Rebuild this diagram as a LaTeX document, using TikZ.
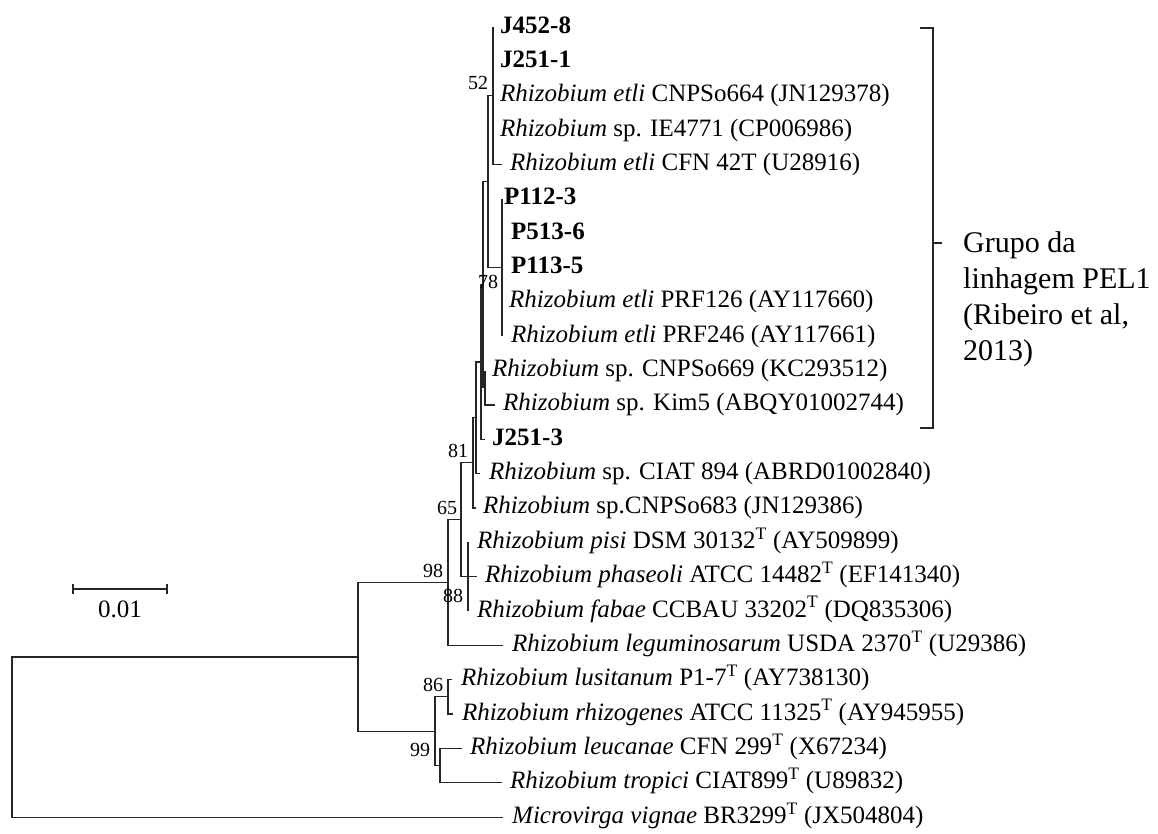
\documentclass[tikz,border=0pt]{standalone}
\usepackage{fontspec}
\setmainfont{Liberation Serif}
\usetikzlibrary{positioning}

\begin{document}
\begin{tikzpicture}[x=1pt, y=-1pt]
	\tikzstyle{branch} = [line width=1.2pt, black!85]
	\tikzstyle{leaf} = [inner sep=0pt, font=\fontsize{25}{30}\selectfont, text height=17pt, text depth=5pt]
	\tikzstyle{boot} = [inner sep=0pt, font=\fontsize{20}{24}\selectfont]
	\tikzstyle{grouplbl} = [inner sep=0pt, align=left, anchor=north west, font=\fontsize{30}{36}\selectfont]
	\useasboundingbox (0,0) rectangle (1158,833);

	% Internal nodes
	\coordinate (nA) at (493,95.7);
	\coordinate (nP) at (502,267.5);
	\coordinate (n1) at (488,181.6);
	\coordinate (nCK) at (485,387.7);
	\coordinate (n2) at (483,284.6);
	\coordinate (n3) at (481,361.9);
	\coordinate (n4) at (476,417.7);
	\coordinate (n5) at (473,462.8);
	\coordinate (nPPF) at (468,576.6);
	\coordinate (n6) at (461,519.7);
	\coordinate (n7) at (448,582.5);
	\coordinate (nLR) at (448,696.8);
	\coordinate (nLT) at (440,765.5);
	\coordinate (n8) at (435,731.2);
	\coordinate (n9) at (358,656.9);
	\coordinate (root) at (12,737);

	% Leaf tips
	\coordinate (t1) at (493,27);
	\coordinate (t2) at (493,61.4);
	\coordinate (t3) at (493,95.7);
	\coordinate (t4) at (493,130.1);
	\coordinate (t5) at (502,164.4);
	\coordinate (t6) at (502,198.8);
	\coordinate (t7) at (502,233.1);
	\coordinate (t8) at (502,267.5);
	\coordinate (t9) at (502,301.8);
	\coordinate (t10) at (502,336.2);
	\coordinate (t11) at (485,370.5);
	\coordinate (t12) at (495,404.9);
	\coordinate (t13) at (485,439.2);
	\coordinate (t14) at (480,473.6);
	\coordinate (t15) at (476,507.9);
	\coordinate (t16) at (468,542.3);
	\coordinate (t17) at (477,576.6);
	\coordinate (t18) at (468,611);
	\coordinate (t19) at (503,645.3);
	\coordinate (t20) at (452,679.7);
	\coordinate (t21) at (453,714);
	\coordinate (t22) at (462,748.4);
	\coordinate (t23) at (502,782.7);
	\coordinate (t24) at (503,817.1);

	% Branches
	\draw[branch] (nA) |- (t1) (nA) |- (t2) (nA) |- (t3) (nA) |- (t4) (nA) |- (t5);
	\draw[branch] (nP) |- (t6) (nP) |- (t7) (nP) |- (t8) (nP) |- (t9) (nP) |- (t10);
	\draw[branch] (n1) |- (nA) (n1) |- (nP);
	\draw[branch] (nCK) |- (t11) (nCK) |- (t12);
	\draw[branch] (n2) |- (n1) (n2) |- (nCK);
	\draw[branch] (n3) |- (n2) (n3) |- (t13);
	\draw[branch] (n4) |- (n3) (n4) |- (t14);
	\draw[branch] (n5) |- (n4) (n5) |- (t15);
	\draw[branch] (nPPF) |- (t16) (nPPF) |- (t17) (nPPF) |- (t18);
	\draw[branch] (n6) |- (n5) (n6) |- (nPPF);
	\draw[branch] (n7) |- (n6) (n7) |- (t19);
	\draw[branch] (nLR) |- (t20) (nLR) |- (t21);
	\draw[branch] (nLT) |- (t22) (nLT) |- (t23);
	\draw[branch] (n8) |- (nLR) (n8) |- (nLT);
	\draw[branch] (n9) |- (n7) (n9) |- (n8);
	\draw[branch] (root) |- (n9) (root) |- (t24);

	% Leaf labels
	\node[leaf, right=7pt of t1] (l1) {\textbf{J452-8}};
	\node[leaf, right=7pt of t2] (l2) {\textbf{J251-1}};
	\node[leaf, right=7pt of t3] (l3) {\textit{Rhizobium etli} CNPSo664 (JN129378)};
	\node[leaf, right=7pt of t4] (l4) {\textit{Rhizobium} sp. IE4771 (CP006986)};
	\node[leaf, right=8pt of t5] (l5) {\textit{Rhizobium etli} CFN 42T (U28916)};
	\node[leaf, right=2pt of t6] (l6) {\textbf{P112-3}};
	\node[leaf, right=9pt of t7] (l7) {\textbf{P513-6}};
	\node[leaf, right=9pt of t8] (l8) {\textbf{P113-5}};
	\node[leaf, right=7pt of t9] (l9) {\textit{Rhizobium etli} PRF126 (AY117660)};
	\node[leaf, right=9pt of t10] (l10) {\textit{Rhizobium etli} PRF246 (AY117661)};
	\node[leaf, right=7pt of t11] (l11) {\textit{Rhizobium} sp. CNPSo669 (KC293512)};
	\node[leaf, right=8pt of t12] (l12) {\textit{Rhizobium} sp. Kim5 (ABQY01002744)};
	\node[leaf, right=7pt of t13] (l13) {\textbf{J251-3}};
	\node[leaf, right=9pt of t14] (l14) {\textit{Rhizobium} sp. CIAT 894 (ABRD01002840)};
	\node[leaf, right=7pt of t15] (l15) {\textit{Rhizobium} sp.CNPSo683 (JN129386)};
	\node[leaf, right=9pt of t16] (l16) {\textit{Rhizobium pisi} DSM 30132\textsuperscript{T} (AY509899)};
	\node[leaf, right=8pt of t17] (l17) {\textit{Rhizobium phaseoli} ATCC 14482\textsuperscript{T} (EF141340)};
	\node[leaf, right=9pt of t18] (l18) {\textit{Rhizobium fabae} CCBAU 33202\textsuperscript{T} (DQ835306)};
	\node[leaf, right=9pt of t19] (l19) {\textit{Rhizobium leguminosarum} USDA 2370\textsuperscript{T} (U29386)};
	\node[leaf, right=9pt of t20] (l20) {\textit{Rhizobium lusitanum} P1-7\textsuperscript{T} (AY738130)};
	\node[leaf, right=9pt of t21] (l21) {\textit{Rhizobium rhizogenes} ATCC 11325\textsuperscript{T} (AY945955)};
	\node[leaf, right=8pt of t22] (l22) {\textit{Rhizobium leucanae} CFN 299\textsuperscript{T} (X67234)};
	\node[leaf, right=8pt of t23] (l23) {\textit{Rhizobium tropici} CIAT899\textsuperscript{T} (U89832)};
	\node[leaf, right=9pt of t24] (l24) {\textit{Microvirga vignae} BR3299\textsuperscript{T} (JX504804)};

	% Bootstrap values
	\node[boot] (b52) at (478,83) {52};
	\node[boot] (b78) at (488,282) {78};
	\node[boot] (b81) at (458,451) {81};
	\node[boot] (b65) at (447,508) {65};
	\node[boot] (b98) at (433,571) {98};
	\node[boot] (b88) at (453,596) {88};
	\node[boot] (b86) at (433,685) {86};
	\node[boot] (b99) at (420,750) {99};

	% Scale bar
	\coordinate (sbL) at (73,589);
	\coordinate (sbR) at (167,589);
	\draw[branch] (sbL) -- (sbR);
	\draw[branch] ([yshift=5pt]sbL) -- ([yshift=-5pt]sbL);
	\draw[branch] ([yshift=5pt]sbR) -- ([yshift=-5pt]sbR);
	\node[leaf] (sbtxt) at (120,611) {0.01};

	% Group bracket
	\coordinate (brtop) at (933,28);
	\coordinate (brbot) at (933,428);
	\coordinate (brmid) at (933,243);
	\coordinate (brtick) at (942,243);
	\draw[branch] ([xshift=-13pt]brtop) -- (brtop) -- (brbot) -- ([xshift=-13pt]brbot);
	\draw[branch] (brmid) -- (brtick);
	\node[grouplbl] (grp) at (963,231) {Grupo da\\linhagem PEL1\\(Ribeiro et al,\\2013)};
\end{tikzpicture}
\end{document}
